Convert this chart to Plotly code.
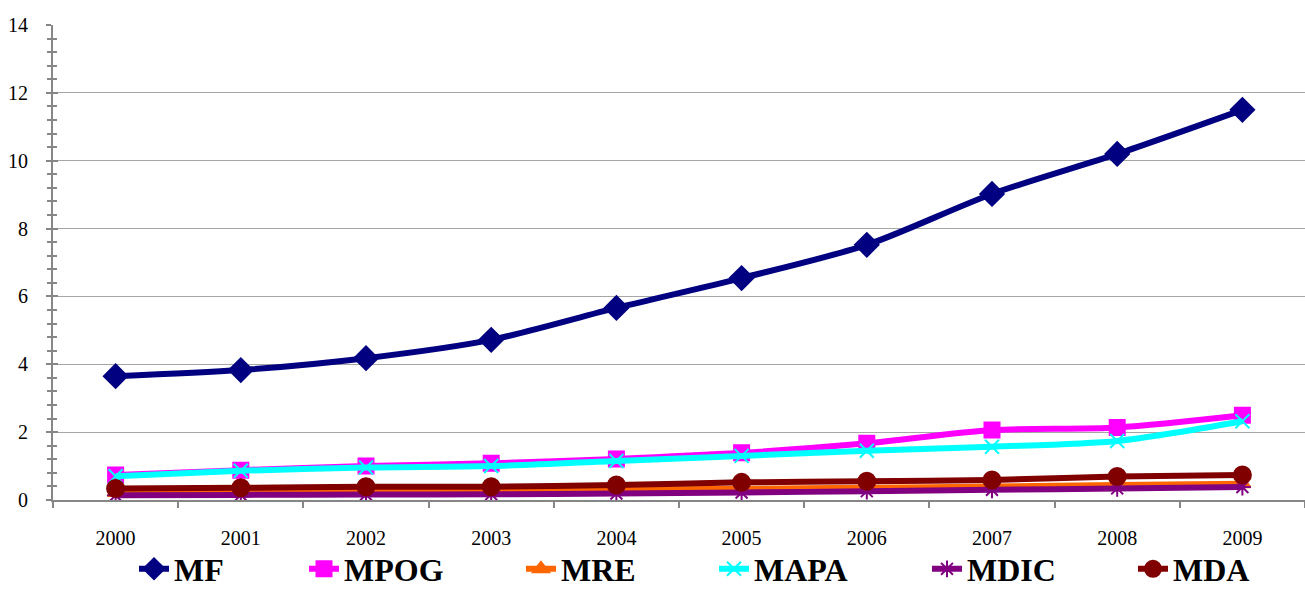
import plotly.graph_objects as go

years = ["2000", "2001", "2002", "2003", "2004", "2005", "2006", "2007", "2008", "2009"]

mf = [3.65, 3.83, 4.18, 4.72, 5.66, 6.54, 7.52, 9.02, 10.2, 11.5]
mpog = [0.74, 0.88, 1.00, 1.08, 1.21, 1.39, 1.67, 2.06, 2.14, 2.50]
mre = [0.22, 0.23, 0.24, 0.26, 0.30, 0.33, 0.36, 0.40, 0.44, 0.48]
mapa = [0.70, 0.86, 0.96, 1.00, 1.15, 1.30, 1.45, 1.57, 1.74, 2.32]
mdic = [0.14, 0.15, 0.16, 0.17, 0.19, 0.22, 0.26, 0.30, 0.34, 0.38]
mda = [0.34, 0.36, 0.39, 0.39, 0.44, 0.52, 0.55, 0.59, 0.69, 0.74]

# name, values, colour, marker symbol, marker size, legend id, legend text start (px)
series = [
    ("MF", mf, "#000080", "diamond", 18, "legend", 176),
    ("MPOG", mpog, "#FF00FF", "square", 15, "legend2", 346),
    ("MRE", mre, "#FF6600", "triangle-up", 14, "legend3", 563),
    ("MAPA", mapa, "#00FFFF", "x-thin-open", 14, "legend4", 756),
    ("MDIC", mdic, "#800080", "asterisk-open", 14, "legend5", 969),
    ("MDA", mda, "#800000", "circle", 17, "legend6", 1175),
]

W, H = 1305, 599
serif = "Liberation Serif"
axis_gray = "#868686"

fig = go.Figure()
legends = {}
for name, vals, color, symbol, size, leg, text_x in series:
    fig.add_trace(go.Scatter(
        x=years, y=vals, name=name, mode="lines+markers", legend=leg,
        line=dict(color=color, width=6, shape="spline", smoothing=0.8),
        marker=dict(symbol=symbol, size=size, color=color,
                    line=dict(color=color, width=2)),
    ))
    legends[leg] = dict(
        xref="container", yref="container",
        x=(text_x - 42) / W, xanchor="left",
        y=1 - 569 / H, yanchor="middle",
        orientation="h", bgcolor="rgba(0,0,0,0)",
        font=dict(family=serif, size=32, weight="bold", color="black"),
        itemwidth=30,
    )

fig.update_layout(
    width=W, height=H,
    margin=dict(l=53, r=0, t=25, b=99, autoexpand=False),
    paper_bgcolor="white", plot_bgcolor="white",
    font=dict(family=serif, color="black"),
    showlegend=True,
    xaxis=dict(
        type="category", range=[-0.5, 9.5], automargin=False,
        showline=True, linecolor=axis_gray, linewidth=2,
        ticks="outside", tickson="boundaries", ticklen=6, tickcolor=axis_gray, tickwidth=2,
        showgrid=False, zeroline=False,
        tickfont=dict(family=serif, size=20), ticklabelstandoff=19,
    ),
    yaxis=dict(
        range=[0, 14], tick0=0, dtick=2, automargin=False,
        showline=True, linecolor=axis_gray, linewidth=2,
        ticks="outside", ticklen=5, tickcolor=axis_gray, tickwidth=2,
        minor=dict(dtick=0.4, ticks="outside", ticklen=4, tickcolor=axis_gray, tickwidth=2, showgrid=False),
        showgrid=True, gridcolor="#A6A6A6", gridwidth=1,
        zeroline=False,
        tickfont=dict(family=serif, size=20), ticklabelstandoff=14,
    ),
    yaxis2=dict(
        overlaying="y", matches="y", side="left", automargin=False,
        range=[0, 14], tick0=0, dtick=2,
        ticks="inside", ticklen=5, tickcolor=axis_gray, tickwidth=2,
        minor=dict(dtick=0.4, ticks="inside", ticklen=4, tickcolor=axis_gray, tickwidth=2, showgrid=False),
        showgrid=False, showticklabels=False, zeroline=False, showline=False,
    ),
    **legends,
)

# invisible trace so the inner tick marks of the second y axis are drawn
fig.add_trace(go.Scatter(x=years, y=mf, yaxis="y2", mode="none",
                         showlegend=False, hoverinfo="skip"))

fig.write_html("out.html")
